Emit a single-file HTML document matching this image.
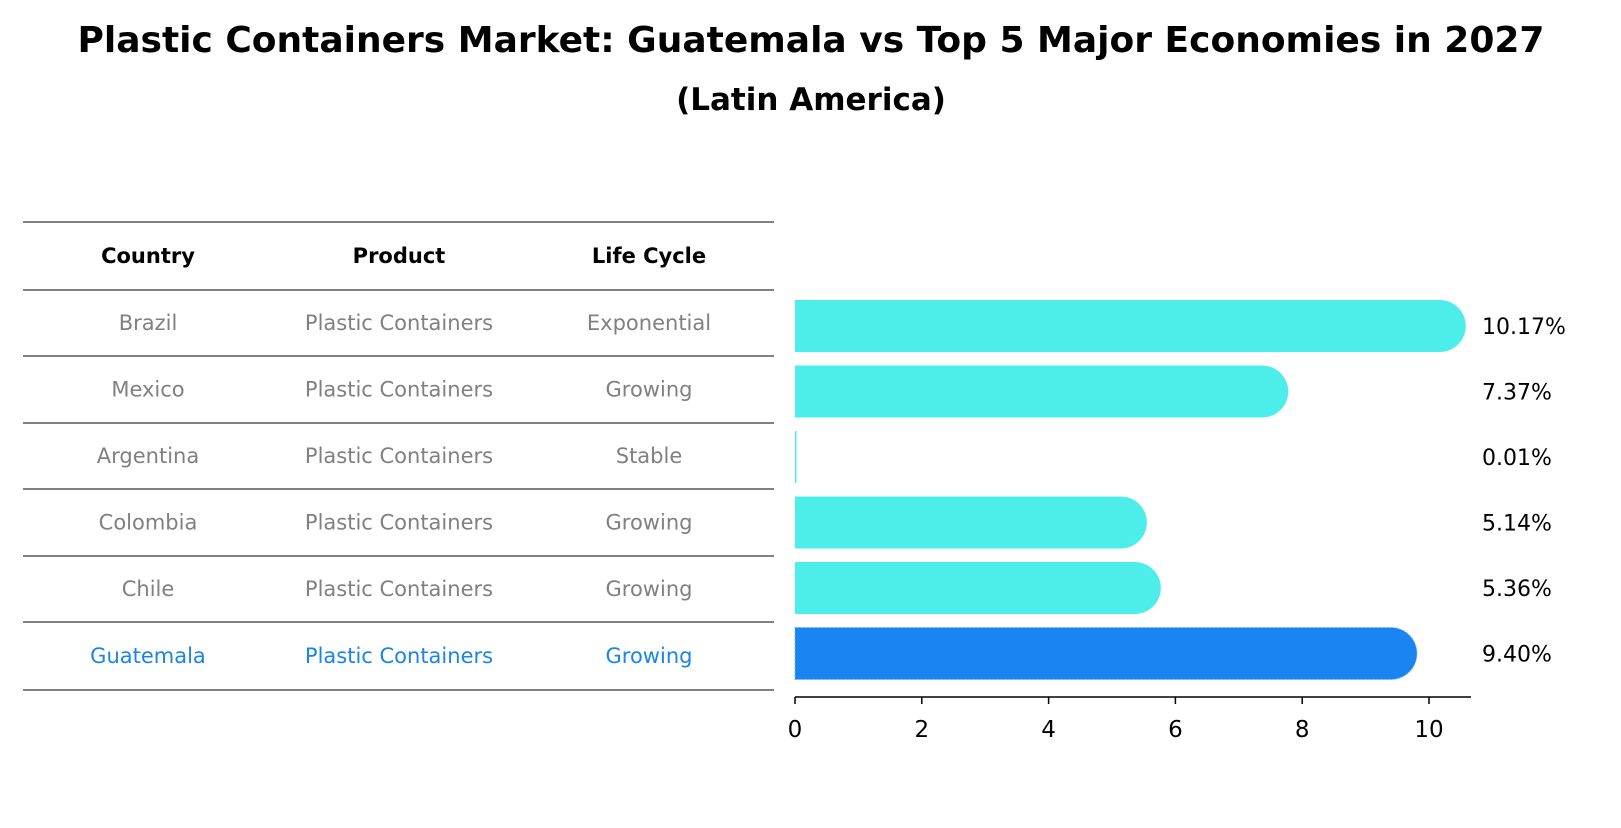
<!DOCTYPE html>
<html><head><meta charset="utf-8"><style>
body{margin:0;background:#fff;font-family:"Liberation Sans","DejaVu Sans",sans-serif;}
svg text{font-family:"DejaVu Sans","Liberation Sans",sans-serif;}
</style></head><body>
<svg width="1621" height="823" xmlns="http://www.w3.org/2000/svg">
<text x="811" y="52" text-anchor="middle" font-size="36" font-weight="bold">Plastic Containers Market: Guatemala vs Top 5 Major Economies in 2027</text>
<text x="811" y="110" text-anchor="middle" font-size="31" font-weight="bold">(Latin America)</text>
<g id="table"></g>
<g id="bars"></g>
</svg>
<script>
const countries=["Brazil","Mexico","Argentina","Colombia","Chile","Guatemala"];
const products=["Plastic Containers","Plastic Containers","Plastic Containers","Plastic Containers","Plastic Containers","Plastic Containers"];
const lifecycle=["Exponential","Growing","Stable","Growing","Growing","Growing"];
const values=[10.17,7.37,0.01,5.14,5.36,9.40];
const ticks=[0,2,4,6,8,10];
const NS="http://www.w3.org/2000/svg";
function mk(t,a,p){const e=document.createElementNS(NS,t);for(const k in a)e.setAttribute(k,a[k]);p.appendChild(e);return e;}
const tb=document.getElementById('table');
const rowY=[222,290,356,423,489,556,622,690];
const colX=[148,399,649];
rowY.forEach((y,i)=>{const l=mk('line',{x1:23,x2:774,y1:y,y2:y,stroke:'#000','stroke-width':1},tb);

});
["Country","Product","Life Cycle"].forEach((h,i)=>{const t=mk('text',{x:colX[i],y:263,'text-anchor':'middle','font-size':21,'font-weight':'bold'},tb);t.textContent=h;

});
countries.forEach((c,r)=>{const y=(rowY[r+1]+rowY[r+2])/2+7;const col=r===5?'#1a84e8':'#808080';
[c,products[r],lifecycle[r]].forEach((v,i)=>{const t=mk('text',{x:colX[i],y:y,'text-anchor':'middle','font-size':21,fill:col},tb);t.textContent=v;

});});
const bg=document.getElementById('bars');
const x0=795,ppu=63.4;const xs=v=>x0+v*ppu;
const yc=i=>326+i*65.5;const h=52;
values.forEach((v,i)=>{const c=yc(i);const x1=xs(v);const col=i===5?'#1a84f2':'#4deeea';
const w=x1-x0;const p=mk('path',{d:`M${x0},${c-h/2} L${x1},${c-h/2} A${h/2},${h/2} 0 0 1 ${x1},${c+h/2} L${x0},${c+h/2} Z`,fill:col},bg);
if(w<1)p.setAttribute('d',`M${x0},${c-h/2} h1.5 v${h} h-1.5 Z`);
if(i===5){p.setAttribute('stroke','#6fb6f5');p.setAttribute('stroke-dasharray','2,2');}


const t=mk('text',{x:1482,y:c+8,'font-size':22},bg);t.textContent=v.toFixed(2)+'%';

});
const ax=mk('line',{x1:x0,x2:1471,y1:697,y2:697,stroke:'#000','stroke-width':1.5},bg);


ticks.forEach(v=>{const tl=mk('line',{x1:xs(v),x2:xs(v),y1:697,y2:704,stroke:'#000','stroke-width':1.5},bg);


const t=mk('text',{x:xs(v),y:737,'text-anchor':'middle','font-size':23},bg);t.textContent=v;

});
</script>
</body></html>
